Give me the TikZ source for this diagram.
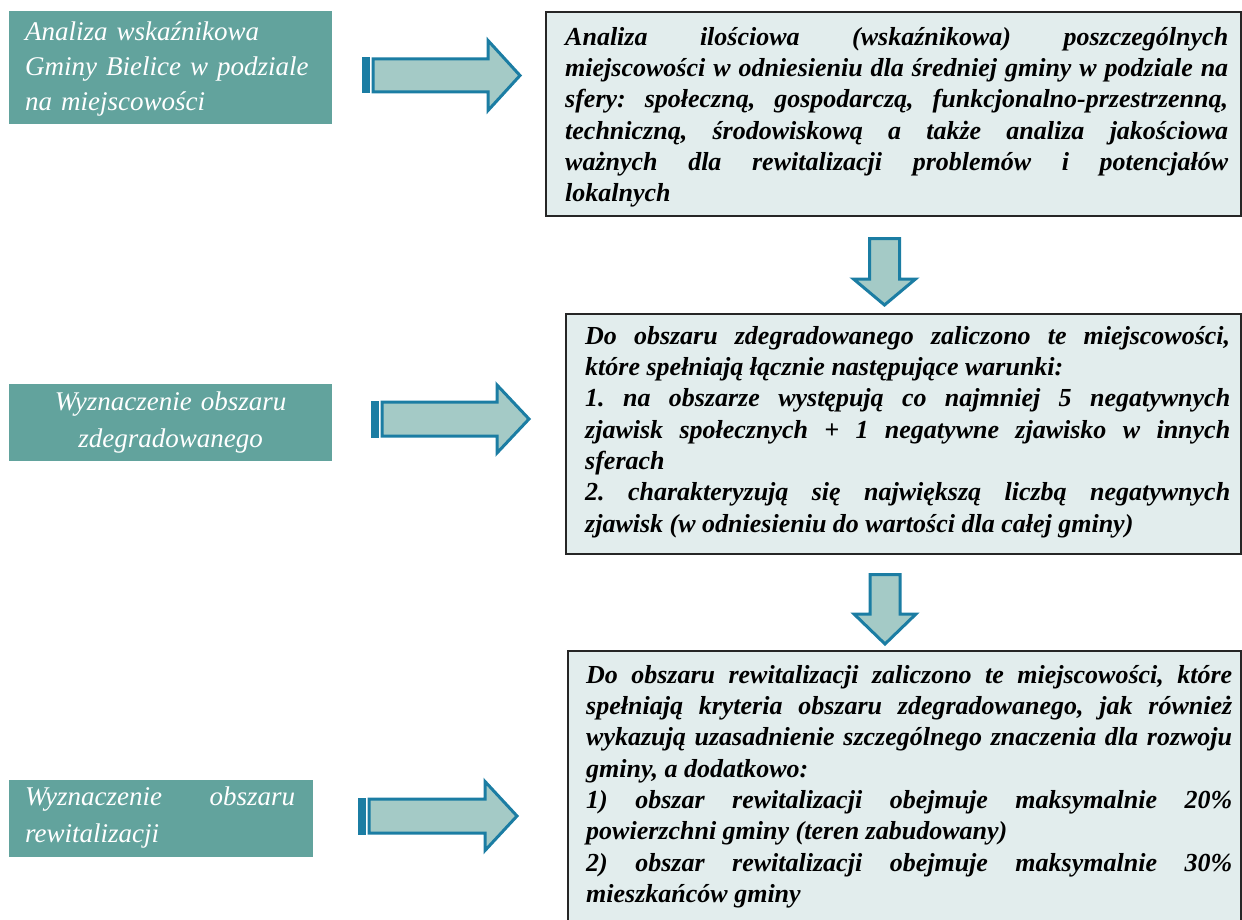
\documentclass[tikz,border=0pt]{standalone}
\usepackage{fontspec}
\setmainfont{Liberation Serif}
\hyphenpenalty=10000
\exhyphenpenalty=10000
\tolerance=10000
\frenchspacing
\definecolor{tealbox}{HTML}{62A39D}
\definecolor{afill}{HTML}{A4CAC6}
\definecolor{aline}{HTML}{1B7DA3}
\definecolor{bfill}{HTML}{E2EDED}
\newcommand\tstrut{\rule{0pt}{20pt}}
\newcommand\rightblock[6]{%
  \fill[aline] (#1,#4-#5-1.5) rectangle (#1+8,#4+#5+1.5);
  \draw[blockarrow] (#1+11,#4-#5) -- (#2,#4-#5) -- (#2,#4-#6) -- (#3,#4)
    -- (#2,#4+#6) -- (#2,#4+#5) -- (#1+11,#4+#5) -- cycle;
}
\newcommand\downblock[6]{%
  \draw[blockarrow] (#1-#5,#2) -- (#1+#5,#2) -- (#1+#5,#3) -- (#1+#6,#3)
    -- (#1,#4) -- (#1-#6,#3) -- (#1-#5,#3) -- cycle;
}
\tikzset{
  leftbox/.style={fill=tealbox, draw=none, inner sep=0pt, anchor=north west},
  rightbox/.style={fill=bfill, draw=black!85, line width=2pt, inner sep=0pt, anchor=north west},
  lefttext/.style={inner sep=0pt, anchor=north west, text=white,
    font=\fontsize{27}{37}\selectfont\itshape},
  righttext/.style={inner sep=0pt, anchor=north west, align=justify,
    font=\fontsize{26}{31.3}\selectfont\bfseries\itshape},
  blockarrow/.style={fill=afill, draw=aline, line width=3pt, line join=miter},
}
\begin{document}
\begin{tikzpicture}[x=1pt,y=-1pt]
\useasboundingbox (0,0) rectangle (1242,920);
% left boxes
\node[leftbox, minimum width=323pt, minimum height=113pt] (l1) at (9,11) {};
\node[leftbox, minimum width=323pt, minimum height=77pt] (l2) at (9,384) {};
\node[leftbox, minimum width=304pt, minimum height=77pt] (l3) at (9,780) {};
% right boxes
\node[rightbox, minimum width=695pt, minimum height=204pt] (r1) at (545,11) {};
\node[rightbox, minimum width=675pt, minimum height=240pt] (r2) at (565,313) {};
\node[rightbox, minimum width=673pt, minimum height=273pt] (r3) at (567,650) {};
% left texts
\node[lefttext, text width=290pt, align=left, font=\fontsize{27}{35}\selectfont\itshape] (t1) at (25,20)
  {\tstrut Analiza wskaźnikowa\\Gminy Bielice w podziale\\na miejscowości};
\node[lefttext, text width=323pt, align=center] (t2) at (9,390)
  {\tstrut Wyznaczenie obszaru\\zdegradowanego};
\node[lefttext, text width=270pt, align=justify] (t3) at (25,785)
  {\tstrut Wyznaczenie obszaru\linebreak rewitalizacji};
% right texts
\node[righttext, text width=663pt] (tA) at (565,25)
  {\tstrut Analiza ilościowa (wskaźnikowa) poszczególnych\linebreak
   miejscowości w odniesieniu dla średniej gminy w podziale na\linebreak
   sfery: społeczną, gospodarczą, funkcjonalno-przestrzenną,\linebreak
   techniczną, środowiskową a także analiza jakościowa\linebreak
   ważnych dla rewitalizacji problemów i potencjałów\linebreak
   lokalnych};
\node[righttext, text width=645pt] (tB) at (585,324)
  {\tstrut Do obszaru zdegradowanego zaliczono te miejscowości,\linebreak
   które spełniają łącznie następujące warunki:\newline
   1. na obszarze występują co najmniej 5 negatywnych\linebreak
   zjawisk społecznych + 1 negatywne zjawisko w innych\linebreak
   sferach\newline
   2. charakteryzują się największą liczbą negatywnych\linebreak
   zjawisk (w odniesieniu do wartości dla całej gminy)};
\node[righttext, text width=646pt] (tC) at (586,663)
  {\tstrut Do obszaru rewitalizacji zaliczono te miejscowości, które\linebreak
   spełniają kryteria obszaru zdegradowanego, jak również\linebreak
   wykazują uzasadnienie szczególnego znaczenia dla rozwoju\linebreak
   gminy, a dodatkowo:\newline
   1) obszar rewitalizacji obejmuje maksymalnie 20\%\linebreak
   powierzchni gminy (teren zabudowany)\newline
   2) obszar rewitalizacji obejmuje maksymalnie 30\%\linebreak
   mieszkańców gminy};
% block arrows
\rightblock{362}{488}{520}{75.5}{16.5}{35}
\rightblock{371}{497}{529}{419}{17}{34}
\rightblock{358}{485}{517}{816}{17}{34.5}
\downblock{884.5}{238.5}{279}{305}{15}{31}
\downblock{885}{574.5}{614}{644}{15}{31}
\end{tikzpicture}
\end{document}
